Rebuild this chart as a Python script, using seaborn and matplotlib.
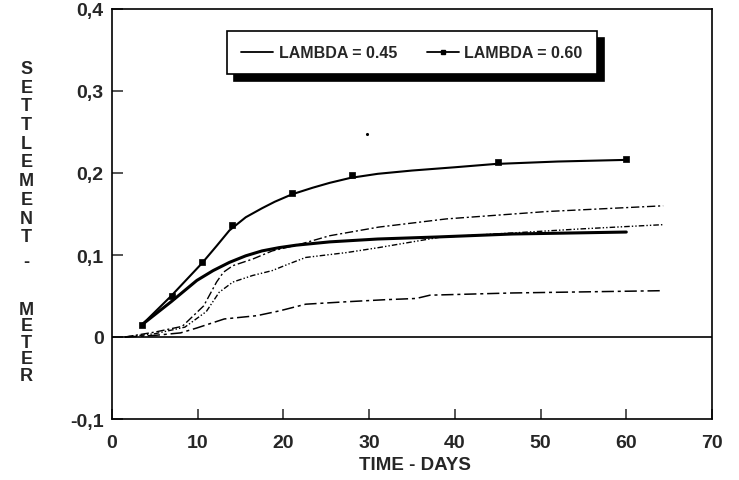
import matplotlib
matplotlib.use("Agg")
import matplotlib.pyplot as plt
from matplotlib.lines import Line2D
import seaborn as sns
import pandas as pd

# ---------------- data ----------------
days_045 = [3.5, 5.2, 6.9, 8.4, 9.9, 11.8, 13.7, 15.6, 17.5, 19.5, 21.5, 25.4, 31.0, 38.0, 46.7, 60.0]
settle_045 = [0.015, 0.029, 0.043, 0.056, 0.069, 0.081, 0.091, 0.099, 0.105, 0.109, 0.112, 0.116, 0.1195, 0.122, 0.1256, 0.128]

days_060_curve = [3.5, 6.9, 10.5, 12.2, 13.7, 15.6, 17.5, 19.0, 21.0, 23.4, 25.4, 27.8, 31.0, 35.0, 40.0, 44.7, 52.0, 60.0]
settle_060_curve = [0.015, 0.050, 0.090, 0.111, 0.130, 0.146, 0.157, 0.165, 0.174, 0.182, 0.188, 0.194, 0.199, 0.203, 0.207, 0.211, 0.214, 0.216]

days_060_pts = [3.5, 7.0, 10.5, 14.0, 21.0, 28.0, 45.0, 60.0]
settle_060_pts = [0.015, 0.050, 0.091, 0.137, 0.176, 0.197, 0.213, 0.217]

days_a = [1.5, 5.0, 8.2, 10.7, 12.2, 13.0, 14.1, 16.4, 18.7, 21.9, 25.4, 31.1, 39.0, 50.7, 64.3]
settle_a = [0.0, 0.006, 0.013, 0.038, 0.067, 0.079, 0.087, 0.095, 0.105, 0.113, 0.1235, 0.134, 0.144, 0.153, 0.160]

days_b = [1.5, 5.0, 8.5, 11.0, 12.5, 14.1, 16.4, 18.7, 20.6, 22.6, 27.4, 31.1, 38.2, 54.5, 64.3]
settle_b = [0.0, 0.004, 0.012, 0.031, 0.0545, 0.067, 0.075, 0.081, 0.089, 0.097, 0.103, 0.109, 0.1216, 0.1317, 0.137]

days_c = [1.5, 5.0, 8.0, 9.9, 13.1, 16.9, 19.6, 22.6, 27.4, 31.9, 35.5, 37.1, 46.7, 64.3]
settle_c = [0.0, 0.002, 0.005, 0.011, 0.022, 0.026, 0.032, 0.040, 0.043, 0.0455, 0.047, 0.051, 0.0537, 0.0565]

stray_day = [29.8]
stray_settle = [0.248]

x_ticks = [0, 10, 20, 30, 40, 50, 60, 70]
y_ticks = [-0.1, 0.0, 0.1, 0.2, 0.3, 0.4]
y_tick_labels = ["-0,1", "0", "0,1", "0,2", "0,3", "0,4"]
legend_labels = ["LAMBDA = 0.45", "LAMBDA = 0.60"]
y_label_word1 = "SETTLEMENT"
y_label_word2 = "METER"
x_label = "TIME - DAYS"

# ---------------- style ----------------
sns.set_style("ticks")
plt.rcParams["font.family"] = ["Liberation Sans", "DejaVu Sans"]
plt.rcParams["font.weight"] = "bold"

W, H = 739, 481
fig = plt.figure(figsize=(W / 100, H / 100), dpi=100)
ax = fig.add_axes([112 / W, 1 - 420 / H, 600 / W, 410 / H])

# zero line
ax.axhline(0, color="black", lw=1.2, zorder=1)

# dashed computed curves
for dx, dy, ls, lw in [
    (days_a, settle_a, (0, (6, 2, 1.5, 2)), 1.0),
    (days_b, settle_b, (0, (4, 1.5, 1, 1.5, 1, 1.5)), 1.0),
    (days_c, settle_c, (0, (8, 2.5, 2, 2.5)), 1.1),
]:
    df = pd.DataFrame({"day": dx, "s": dy})
    sns.lineplot(data=df, x="day", y="s", ax=ax, color="black", lw=lw,
                 linestyle=ls, sort=False, estimator=None, zorder=2)

# lambda 0.45 (thick solid)
df45 = pd.DataFrame({"day": days_045, "s": settle_045})
sns.lineplot(data=df45, x="day", y="s", ax=ax, color="black", lw=2.2,
             sort=False, estimator=None, zorder=3)

# lambda 0.60 (solid with squares)
df60 = pd.DataFrame({"day": days_060_curve, "s": settle_060_curve})
sns.lineplot(data=df60, x="day", y="s", ax=ax, color="black", lw=1.5,
             sort=False, estimator=None, zorder=3)
dfp = pd.DataFrame({"day": days_060_pts, "s": settle_060_pts})
sns.scatterplot(data=dfp, x="day", y="s", ax=ax, marker="s", s=16,
                color="black", edgecolor="black", linewidth=0.5, zorder=4)
sns.scatterplot(x=stray_day, y=stray_settle, ax=ax, marker="o", s=5,
                color="black", edgecolor="black", linewidth=0, zorder=4)

# axes
ax.set_xlim(0, 70)
ax.set_ylim(-0.1, 0.4)
ax.set_xticks(x_ticks)
ax.set_xticklabels([str(t) for t in x_ticks], fontsize=14, fontweight="bold")
ax.set_yticks(y_ticks)
ax.set_yticklabels(y_tick_labels, fontsize=14, fontweight="bold")
ax.tick_params(axis="x", direction="in", length=7, width=1.1, pad=11)
ax.tick_params(axis="y", direction="in", length=8, width=1.1, pad=6)
for sp in ax.spines.values():
    sp.set_visible(True)
    sp.set_linewidth(1.2)
    sp.set_color("black")
ax.set_ylabel("")
ax.set_xlabel(x_label, fontsize=13.5, fontweight="bold", va="center")
ax.xaxis.set_label_coords(0.505, -0.112)

# stacked vertical y label (one text per word, letters stacked)
fig.text(26.5 / W, 1 - 61 / H, "\n".join(y_label_word1), ha="center", va="top",
         fontsize=13, fontweight="bold", linespacing=1.13)
fig.text(26.5 / W, 1 - 263 / H, "-", ha="center", va="center",
         fontsize=13, fontweight="bold")
fig.text(26.5 / W, 1 - 302 / H, "\n".join(y_label_word2), ha="center", va="top",
         fontsize=13, fontweight="bold", linespacing=0.96)

# legend
handles = [
    Line2D([], [], color="black", lw=1.3),
    Line2D([], [], color="black", lw=1.3, marker="s", markersize=3.5),
]
leg = ax.legend(handles, legend_labels, ncol=2, loc="upper center",
                bbox_to_anchor=(0.5, 0.947), borderaxespad=0,
                frameon=True, fancybox=False, edgecolor="black",
                handlelength=2.0, handletextpad=0.35, columnspacing=1.85,
                borderpad=0.9, prop={"size": 11.5, "weight": "bold"},
                shadow={"ox": 5, "oy": -5, "facecolor": "black",
                        "edgecolor": "black", "alpha": 1.0})
leg.get_frame().set_linewidth(1.2)
leg.get_frame().set_alpha(1.0)
leg.get_frame().set_facecolor("white")

fig.savefig("out.png", dpi=100)
